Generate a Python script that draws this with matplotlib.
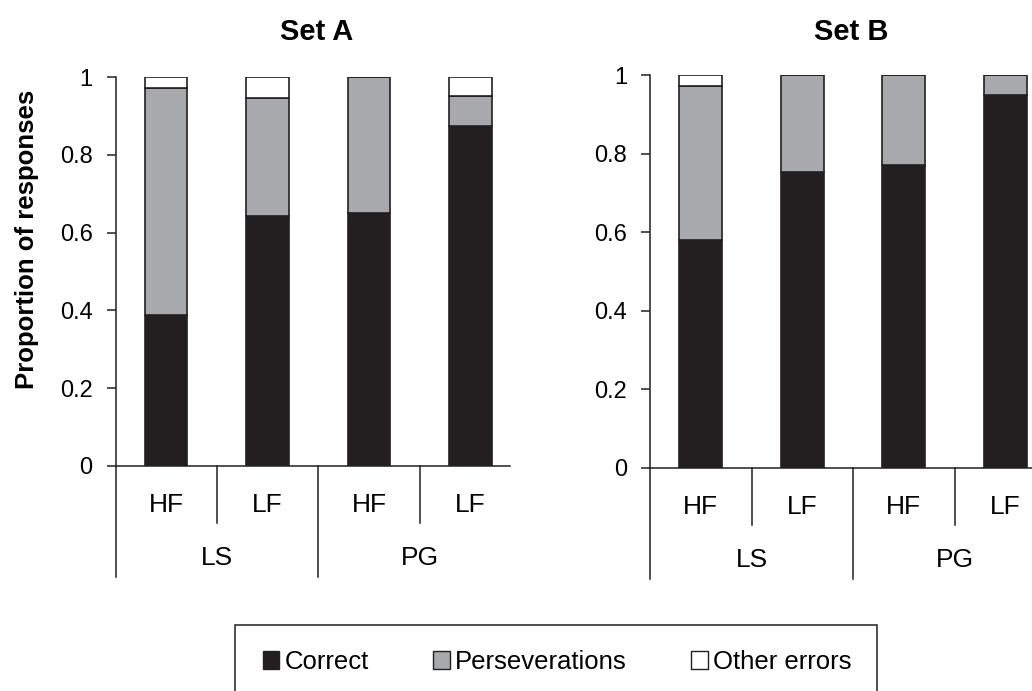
import matplotlib.pyplot as plt
from matplotlib.patches import Patch, Rectangle

plt.rcParams['font.family'] = ['Liberation Sans', 'DejaVu Sans']

# data
inner_labels = ["HF", "LF", "HF", "LF"]
outer_labels = ["LS", "PG"]
set_names = ["Set A", "Set B"]

correct_a = [0.388, 0.643, 0.650, 0.874]
persev_a = [0.585, 0.304, 0.350, 0.078]
other_a = [0.027, 0.053, 0.0, 0.048]

correct_b = [0.580, 0.754, 0.772, 0.950]
persev_b = [0.392, 0.246, 0.228, 0.050]
other_b = [0.028, 0.0, 0.0, 0.0]

yticks = [0, 0.2, 0.4, 0.6, 0.8, 1]
ytick_labels = ["0", "0.2", "0.4", "0.6", "0.8", "1"]

DARK = "#231f20"
GREY = "#a7a9ac"
W, H = 1032, 691

fig = plt.figure(figsize=(W / 100, H / 100), dpi=100)


def px_axes(left, top, right, bottom):
    return fig.add_axes([left / W, 1 - bottom / H, (right - left) / W, (bottom - top) / H])


def draw_set(ax, correct, persev, other, height_px, axis_end=None):
    x = list(range(len(correct)))
    base2 = [c + p for c, p in zip(correct, persev)]
    kw = dict(width=0.42, edgecolor=DARK, linewidth=1.2, zorder=3)
    ax.bar(x, correct, color=DARK, **kw)
    ax.bar(x, persev, bottom=correct, color=GREY, **kw)
    ax.bar(x, other, bottom=base2, color="white", **kw)

    ax.set_xlim(-0.5, 3.5)
    ax.set_ylim(0, 1)
    ax.set_yticks(yticks)
    ax.set_yticklabels(ytick_labels, fontsize=17)
    ax.set_xticks([])
    ax.tick_params(axis="y", direction="out", length=6.5, width=1.1, pad=10, color=DARK)
    for s in ["top", "right"]:
        ax.spines[s].set_visible(False)
    for s in ["left", "bottom"]:
        ax.spines[s].set_linewidth(1.1)
        ax.spines[s].set_color(DARK)
    if axis_end is not None:
        ax.spines["bottom"].set_bounds(-0.5, axis_end)

    tr = ax.get_xaxis_transform()
    short = -57 / height_px
    long_ = -111 / height_px
    for i, lab in enumerate(inner_labels):
        ax.text(i, -39 / height_px, lab, transform=tr, ha="center", va="center", fontsize=19)
    for j, lab in enumerate(outer_labels):
        ax.text(0.5 + 2 * j, -92 / height_px, lab, transform=tr, ha="center", va="center", fontsize=19)
    for xs in [0.5, 2.5]:
        ax.plot([xs, xs], [0, short], transform=tr, color=DARK, lw=1.1, clip_on=False)
    for xs in [-0.5, 1.5]:
        ax.plot([xs, xs], [0, long_], transform=tr, color=DARK, lw=1.1, clip_on=False)


ax_a = px_axes(115.5, 77, 521, 466)
draw_set(ax_a, correct_a, persev_a, other_a, 389, axis_end=3.39)

ax_b = px_axes(650, 75, 1056, 468)
draw_set(ax_b, correct_b, persev_b, other_b, 393)

fig.text(317 / W, 1 - 32 / H, set_names[0], ha="center", va="center", fontsize=21, fontweight="bold")
fig.text(851 / W, 1 - 32 / H, set_names[1], ha="center", va="center", fontsize=21, fontweight="bold")
fig.text(27 / W, 1 - 239 / H, "Proportion of responses", rotation=90, ha="center", va="center",
         fontsize=18.5, fontweight="bold")

# legend box (bottom runs off the picture, as in the reference)
fig.patches.append(Rectangle((235 / W, 1 - 700 / H), (877 - 235) / W, (700 - 625) / H,
                             transform=fig.transFigure, facecolor="none", edgecolor=DARK, lw=1.1))
handles = [Patch(facecolor=DARK, edgecolor=DARK, label="Correct"),
           Patch(facecolor=GREY, edgecolor=DARK, label="Perseverations"),
           Patch(facecolor="white", edgecolor=DARK, label="Other errors")]
fig.legend(handles=handles, loc="center", bbox_to_anchor=(557 / W, 1 - 662 / H), ncol=3,
           frameon=False, fontsize=18.5, handlelength=0.65, handleheight=0.65,
           handletextpad=0.2, columnspacing=2.5)

fig.savefig("out.png", dpi=100)
